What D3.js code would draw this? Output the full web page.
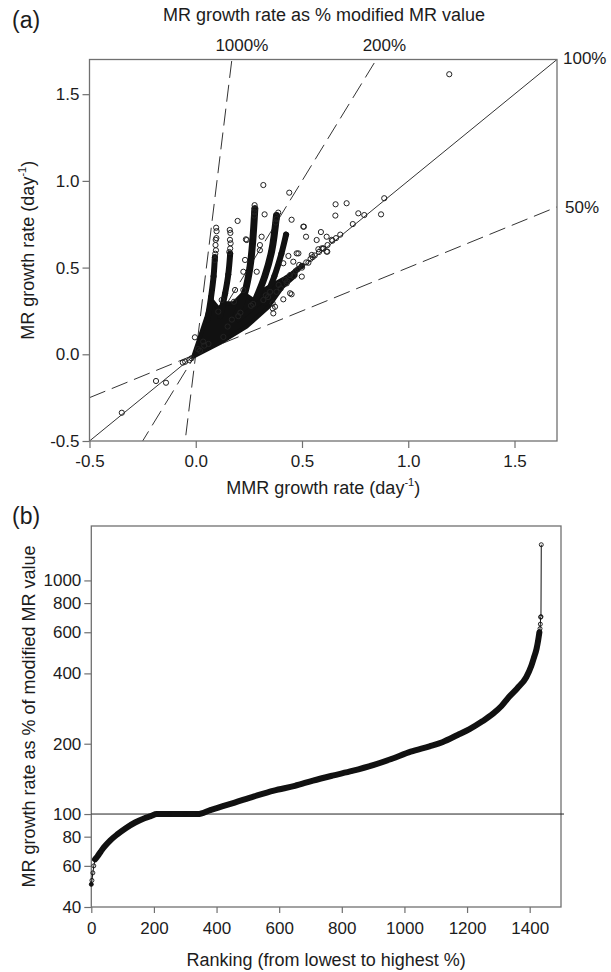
<!DOCTYPE html>
<html><head><meta charset="utf-8">
<script src="https://cdn.jsdelivr.net/npm/d3@7"></script>
<style>
body{margin:0;background:#fff}
text{font-family:"Liberation Sans",Arial,Helvetica,sans-serif;fill:#1c1c1c}
</style></head>
<body><svg id="c" width="611" height="972"></svg>
<script>
// ---------- Panel (a) data ----------
const growthTicks = [-0.5, 0.0, 0.5, 1.0, 1.5];
const refRatios = [10, 2, 1, 0.5];
const refLabels = ["1000%", "200%", "100%", "50%"];

// individually visible open circles (MMR rate, MR rate)
const scatterX = [-0.348,-0.187,-0.14,-0.061,-0.03,-0.05,-0.02,-0.004,0.035,1.193,
 0.318,0.44,0.197,0.324,0.388,0.451,0.509,0.519,0.589,0.616,0.643,0.569,0.593,0.616,0.546,
 0.658,0.71,0.657,0.765,0.793,0.872,0.887,0.739,0.53,0.483,0.487,0.436,0.459,0.412,0.499,
 0.451,0.412,0.362,0.362,0.365,0.318,0.302,0.31,0.24,0.428,0.444,0.232,0.287,0.185,0.122,
 0.18,0.224,0.224,0.236,0.302,0.475,0.444,0.373,0.106,0.6,0.577,0.619,0.64,0.506,
 0.092,0.095,0.093,0.094,0.097,0.098,0.096,0.09,
 0.162,0.164,0.161,0.163,0.16,0.158,
 0.277,0.279,0.276,0.275,0.38,0.377,
 0.56,0.58,0.6,0.62,0.66,0.68,0.47,0.5,0.52,0.55,0.35,0.39,0.42,0.33,0.27,0.26,0.2,0.15,0.17,0.21,0.13,0.01,0.02,0.04,0.06,
 0.48,0.5,0.54,0.46,0.43,0.4,0.38,0.34];
const scatterY = [-0.337,-0.154,-0.164,-0.048,-0.033,-0.043,-0.023,0.098,0.073,1.615,
 0.976,0.932,0.769,0.807,0.817,0.776,0.736,0.678,0.705,0.678,0.655,0.659,0.611,0.592,0.573,
 0.865,0.871,0.80,0.813,0.803,0.807,0.90,0.751,0.528,0.582,0.515,0.567,0.534,0.525,0.448,
 0.346,0.317,0.294,0.265,0.236,0.313,0.60,0.678,0.659,0.409,0.457,0.544,0.476,0.371,0.313,
 0.303,0.371,0.476,0.663,0.63,0.582,0.352,0.274,0.246,0.61,0.606,0.592,0.66,0.736,
 0.58,0.60,0.63,0.66,0.67,0.71,0.73,0.544,
 0.61,0.64,0.66,0.70,0.717,0.59,
 0.86,0.84,0.82,0.80,0.78,0.76,
 0.57,0.59,0.61,0.63,0.67,0.69,0.48,0.5,0.53,0.56,0.36,0.4,0.43,0.34,0.29,0.28,0.22,0.16,0.2,0.24,0.1,0.03,0.02,0.05,0.06,
 0.49,0.51,0.55,0.45,0.42,0.38,0.36,0.33];

// outline of the solid mass of overlapping circles
const fanX = [-0.012,0.051,0.075,0.106,0.138,0.177,0.224,0.271,0.318,0.36,0.42,0.47,0.47,0.41,0.34,0.24,0.114];
const fanY = [-0.014,0.217,0.313,0.265,0.294,0.294,0.352,0.313,0.371,0.4,0.44,0.48,0.455,0.39,0.27,0.16,0.065];

// dense streaks of overlapping circles
const streak1X = [0.055,0.072,0.084,0.09],         streak1Y = [0.2,0.33,0.45,0.56];
const streak2X = [0.115,0.138,0.153,0.162],        streak2Y = [0.22,0.35,0.46,0.58];
const streak3X = [0.19,0.232,0.255,0.268,0.278],   streak3Y = [0.22,0.36,0.5,0.65,0.84];
const streak4X = [0.27,0.325,0.358,0.38],          streak4Y = [0.28,0.45,0.6,0.8];
const streak5X = [0.32,0.37,0.403,0.425],          streak5Y = [0.3,0.45,0.58,0.69];
const bandX = [0.2,0.3,0.4,0.5],                   bandY = [0.2,0.3,0.41,0.51];

// ---------- Panel (b) data ----------
const rankValues = [0,2,5,8,12,20,30,40,60,84,110,140,170,190,209,250,300,340,380,420,458,520,583,650,708,770,833,900,958,1020,1080,1121,1170,1208,1250,1283,1310,1333,1360,1389,1405,1414,1422,1427,1431,1433,1434,1435,1436,1437];
const pctValues  = [50,52,56,60,64,66,69,72,77,82,87,92,96,98,100,100,100,100,104,108,112,119,126,132,139,146,153,162,172,185,195,203,218,231,250,269,290,316,345,385,430,469,510,553,600,622,650,696,700,1422];
const pctTicks = [40,60,80,100,200,400,600,800,1000];
const rankTicks = [0,200,400,600,800,1000,1200,1400];

// ---------- drawing ----------
const svg = d3.select("#c");
const ink = "#111", frameCol = "#707070";

// ===== Panel (a) =====
const xa = d3.scaleLinear().domain([-0.5,1.7]).range([89.5,557]);
const ya = d3.scaleLinear().domain([-0.5,1.7]).range([441,59.5]);
const ga = svg.append("g");
ga.append("clipPath").attr("id","clipA").append("rect")
  .attr("x",xa.range()[0]).attr("y",ya.range()[1])
  .attr("width",xa.range()[1]-xa.range()[0]).attr("height",ya.range()[0]-ya.range()[1]);
const plotA = ga.append("g").attr("clip-path","url(#clipA)");

// reference lines
refRatios.forEach(r=>{
  plotA.append("line")
    .attr("x1",xa(-0.5)).attr("y1",ya(-0.5*r))
    .attr("x2",xa(1.7)).attr("y2",ya(1.7*r))
    .attr("stroke","#333").attr("stroke-width",1)
    .attr("stroke-dasharray", r===1 ? null : "17,7");
});

// dense mass
plotA.append("path")
  .datum(d3.zip(fanX,fanY))
  .attr("d", d3.line().x(d=>xa(d[0])).y(d=>ya(d[1])).curve(d3.curveLinearClosed))
  .attr("fill",ink).attr("stroke",ink).attr("stroke-width",4).attr("stroke-linejoin","round");
const streaks = [[streak1X,streak1Y,6],[streak2X,streak2Y,6],[streak3X,streak3Y,7],[streak4X,streak4Y,7],[streak5X,streak5Y,6],[bandX,bandY,5]];
const sLine = d3.line().x(d=>xa(d[0])).y(d=>ya(d[1])).curve(d3.curveCatmullRom);
streaks.forEach(([sx,sy,w])=>{
  const pts = d3.zip(sx,sy);
  plotA.append("path").datum(pts).attr("d",sLine)
    .attr("fill","none").attr("stroke",ink).attr("stroke-width",w).attr("stroke-linecap","round");
  plotA.selectAll(null).data(pts).enter().append("circle")
    .attr("cx",d=>xa(d[0])).attr("cy",d=>ya(d[1])).attr("r",2.6)
    .attr("fill","none").attr("stroke",ink).attr("stroke-width",1);
});
// open circles
plotA.selectAll(null).data(d3.zip(scatterX,scatterY)).enter().append("circle")
  .attr("cx",d=>xa(d[0])).attr("cy",d=>ya(d[1])).attr("r",2.6)
  .attr("fill","none").attr("stroke","#222").attr("stroke-width",1);

// frame
ga.append("rect").attr("x",xa.range()[0]).attr("y",ya.range()[1])
  .attr("width",xa.range()[1]-xa.range()[0]).attr("height",ya.range()[0]-ya.range()[1])
  .attr("fill","none").attr("stroke",frameCol).attr("stroke-width",1.3);

// axes
const fmt1 = d=>d.toFixed(1);
const axA_x = ga.append("g").attr("transform",`translate(0,${ya.range()[0]})`)
  .call(d3.axisBottom(xa).tickValues(growthTicks).tickFormat(fmt1).tickSize(7).tickPadding(7));
const axA_y = ga.append("g").attr("transform",`translate(${xa.range()[0]},0)`)
  .call(d3.axisLeft(ya).tickValues(growthTicks).tickFormat(fmt1).tickSize(7).tickPadding(3));
[axA_x,axA_y].forEach(a=>{
  a.select(".domain").remove();
  a.selectAll(".tick line").attr("stroke",frameCol).attr("stroke-width",1.2);
  a.selectAll(".tick text").attr("font-size",17).attr("fill","#1c1c1c")
   .attr("font-family","Liberation Sans, Arial, sans-serif");
});

// reference line labels
const refPos = [
  {x: xa(1.7/10)+10, y: 51, anchor:"middle"},
  {x: xa(1.7/2)+8,   y: 51, anchor:"middle"},
  {x: xa(1.7)+6,     y: 64, anchor:"start"},
  {x: xa(1.7)+8,     y: ya(1.7*0.5)+6, anchor:"start"}
];
refLabels.forEach((t,i)=>{
  svg.append("text").attr("x",refPos[i].x).attr("y",refPos[i].y)
    .attr("text-anchor",refPos[i].anchor).attr("font-size",17).text(t);
});

svg.append("text").attr("x",324).attr("y",21).attr("text-anchor","middle")
  .attr("font-size",18).text("MR growth rate as % modified MR value");
svg.append("text").attr("x",12).attr("y",28).attr("font-size",23).text("(a)");

// axis titles (a)
const tx = svg.append("text").attr("x",(xa.range()[0]+xa.range()[1])/2).attr("y",494)
  .attr("text-anchor","middle").attr("font-size",18);
tx.append("tspan").text("MMR growth rate (day");
tx.append("tspan").attr("font-size",11).attr("dy",-8).text("-1");
tx.append("tspan").attr("dy",8).text(")");
const ty = svg.append("text").attr("transform",`translate(34,${(ya.range()[0]+ya.range()[1])/2}) rotate(-90)`)
  .attr("text-anchor","middle").attr("font-size",18);
ty.append("tspan").text("MR growth rate (day");
ty.append("tspan").attr("font-size",11).attr("dy",-8).text("-1");
ty.append("tspan").attr("dy",8).text(")");

// ===== Panel (b) =====
const xb = d3.scaleLinear().domain([0,1500]).range([91.3,561]);
const yb = d3.scaleLog().domain([40,1710]).range([907,526]);
const gb = svg.append("g");
gb.append("rect").attr("x",xb.range()[0]).attr("y",yb.range()[1])
  .attr("width",xb.range()[1]-xb.range()[0]).attr("height",yb.range()[0]-yb.range()[1])
  .attr("fill","none").attr("stroke",frameCol).attr("stroke-width",1.3);

// 100% reference line
gb.append("line").attr("x1",xb(0)).attr("x2",xb.range()[1]+3)
  .attr("y1",yb(100)).attr("y2",yb(100)).attr("stroke","#222").attr("stroke-width",1);

const pts = d3.zip(rankValues,pctValues);
const lineB = d3.line().x(d=>xb(d[0])).y(d=>yb(d[1]));
gb.append("path").datum(pts).attr("d",lineB)
  .attr("fill","none").attr("stroke",ink).attr("stroke-width",1);
gb.append("path").datum(pts.filter(d=>d[1]>=64 && d[1]<=600)).attr("d",lineB.curve(d3.curveMonotoneX))
  .attr("fill","none").attr("stroke",ink).attr("stroke-width",6).attr("stroke-linejoin","round").attr("stroke-linecap","round");
gb.selectAll(null).data(pts).enter().append("circle")
  .attr("cx",d=>xb(d[0])).attr("cy",d=>yb(d[1])).attr("r",2)
  .attr("fill",(d,i)=>i===0?ink:"none").attr("stroke",ink).attr("stroke-width",0.9);

const axB_x = gb.append("g").attr("transform",`translate(0,${yb.range()[0]})`)
  .call(d3.axisBottom(xb).tickValues(rankTicks).tickFormat(d3.format("d")).tickSize(6).tickPadding(9));
const axB_y = gb.append("g").attr("transform",`translate(${xb.range()[0]},0)`)
  .call(d3.axisLeft(yb).tickValues(pctTicks).tickFormat(d3.format("d")).tickSize(7).tickPadding(3));
[axB_x,axB_y].forEach(a=>{
  a.select(".domain").remove();
  a.selectAll(".tick line").attr("stroke",frameCol).attr("stroke-width",1.2);
  a.selectAll(".tick text").attr("font-size",17).attr("fill","#1c1c1c")
   .attr("font-family","Liberation Sans, Arial, sans-serif");
});

svg.append("text").attr("x",12).attr("y",524).attr("font-size",23).text("(b)");
svg.append("text").attr("x",(xb.range()[0]+xb.range()[1])/2).attr("y",966)
  .attr("text-anchor","middle").attr("font-size",18).text("Ranking (from lowest to highest %)");
svg.append("text").attr("transform",`translate(35,${(yb.range()[0]+yb.range()[1])/2}) rotate(-90)`)
  .attr("text-anchor","middle").attr("font-size",18).text("MR growth rate as % of modified MR value");
</script>
</body></html>
